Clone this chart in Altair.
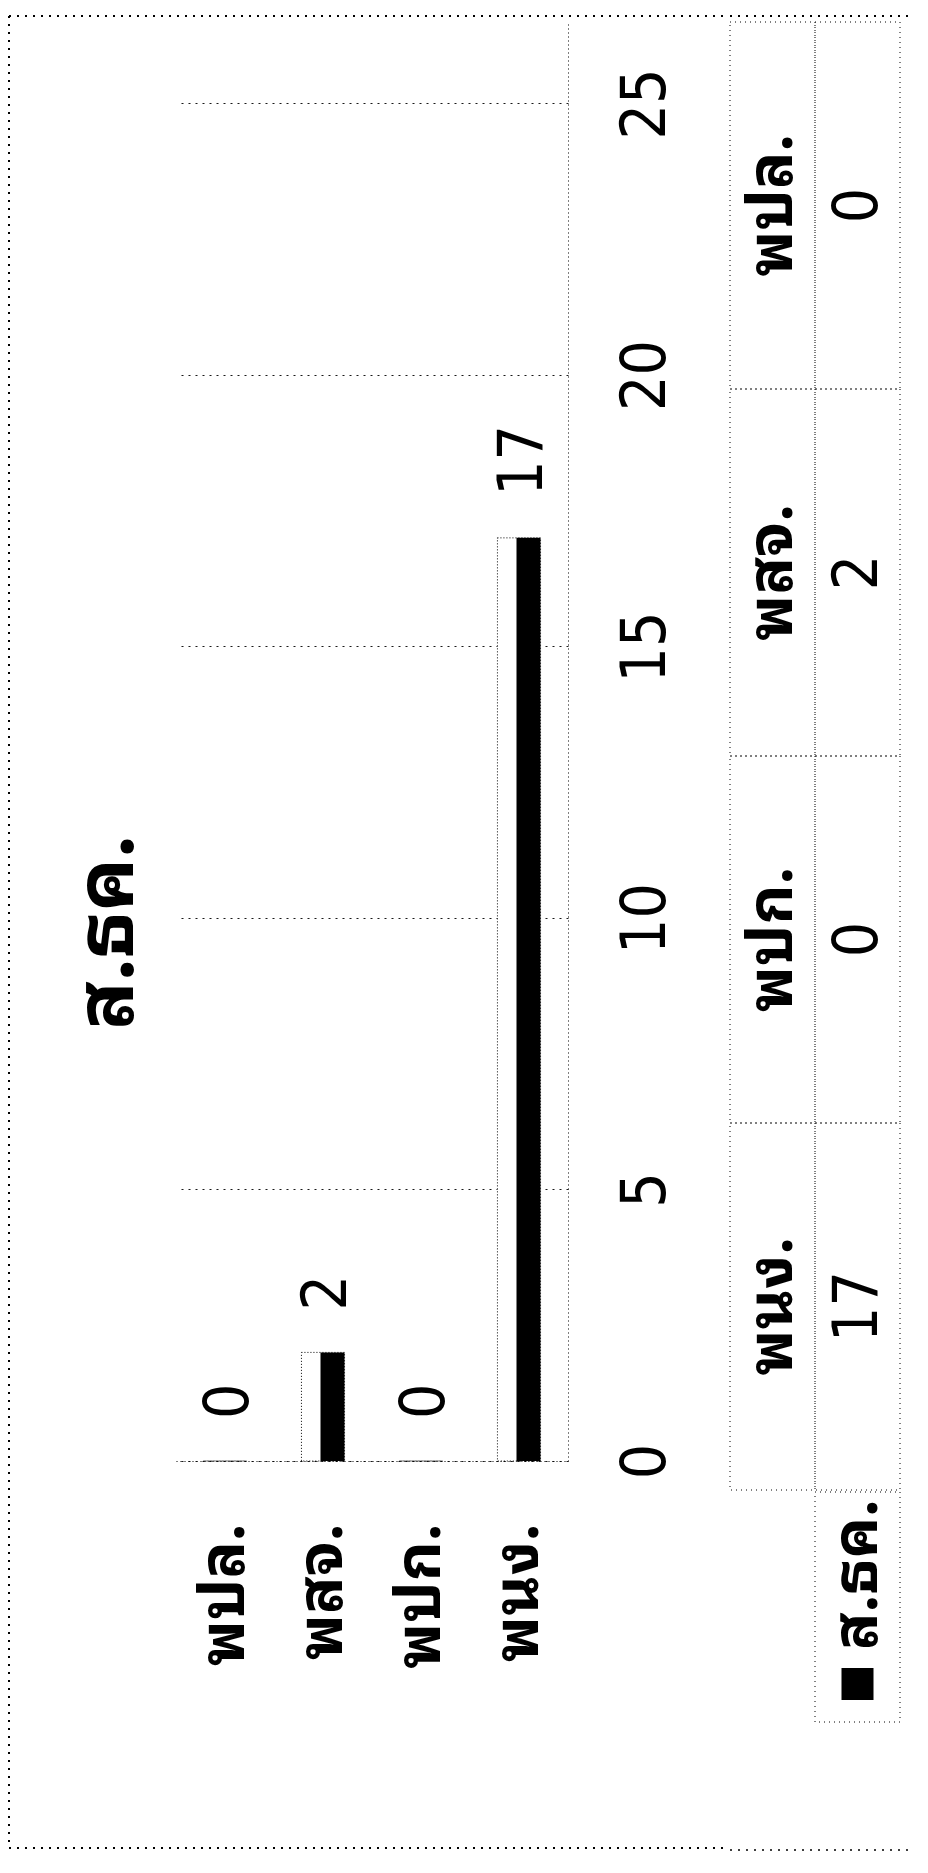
import altair as alt
import pandas as pd

# ---- data ----
categories = ["พปล.", "พสจ.", "พปก.", "พนง."]   # order as drawn (left to right / top to bottom)
values = [0, 2, 0, 17]
series_name = "ส.ธค."
tick_values = [0, 5, 10, 15, 20, 25]
value_max = 26.5

THAI = "Noto Sans Thai Looped, Noto Sans Thai, Noto Sans Thai UI, Loma, Garuda, Tlwg Typo, DejaVu Sans, sans-serif"
DIGIT = "DejaVu Sans Condensed, Liberation Sans Narrow, Arial Narrow, Liberation Sans, sans-serif"

df = pd.DataFrame({"cat": categories, "val": values})

x_bar = alt.X(
    "cat:N", sort=categories,
    scale=alt.Scale(paddingInner=0.56, paddingOuter=0.28),
    axis=alt.Axis(title=None, labelAngle=270, labelAlign="right", labelBaseline="middle",
                  labelPadding=62, labelFont=THAI, labelFontSize=62, labelFontWeight="bold",
                  labelColor="black", ticks=False, tickSize=0, domain=True, domainColor="black",
                  domainDash=[1, 3], labelLimit=0, grid=False),
)
y_bar = alt.Y(
    "val:Q",
    scale=alt.Scale(domain=[0, value_max], nice=False, zero=True),
    axis=alt.Axis(title=None, orient="right", values=tick_values, labelAngle=270,
                  labelAlign="center", labelBaseline="top", labelPadding=47,
                  labelFont=DIGIT, labelFontSize=62, labelColor="black",
                  ticks=False, tickSize=0, domain=True, domainColor="black", domainDash=[1, 3],
                  grid=True, gridColor="black", gridDash=[2, 5], gridWidth=1, gridOpacity=0.9),
)

base = alt.Chart(df)
bar_outline = base.mark_bar(fill="white", stroke="black", strokeWidth=1,
                            strokeDash=[1, 2]).encode(x=x_bar, y=y_bar)
bar_core = base.mark_bar(color="black", width=24, xOffset=9.5).encode(
    x=alt.X("cat:N", sort=categories), y=alt.Y("val:Q"))
bar_labels = base.mark_text(angle=270, align="left", baseline="middle", dx=42, dy=4,
                            font=DIGIT, fontSize=62, color="black").encode(
    x=alt.X("cat:N", sort=categories), y=alt.Y("val:Q"), text="val:Q")

# dotted outer frame of the chart area (decoration, left part)
frame_style = dict(color="black", strokeDash=[2, 6], strokeWidth=1.5)
frame_top = base.mark_rule(**frame_style).encode(
    x=alt.value(-167), x2=alt.value(552), y=alt.value(-6))
frame_bottom = base.mark_rule(**frame_style).encode(
    x=alt.value(-167), x2=alt.value(552), y=alt.value(1826))
frame_left = base.mark_rule(**frame_style).encode(
    x=alt.value(-167), y=alt.value(-6), y2=alt.value(1826))

bar_chart = alt.layer(frame_top, frame_bottom, frame_left,
                      bar_outline, bar_core, bar_labels).properties(
    width=392, height=1439,
    title=alt.TitleParams(series_name, orient="left", anchor="middle", frame="group",
                          font=THAI, fontSize=80, fontWeight="bold", color="black",
                          offset=-142, dx=-191),
)

# ---- data table ----
tdf = pd.DataFrame({"cat": categories, "val": [str(v) for v in values]})
tx = alt.X("row:N", scale=alt.Scale(domain=["h", "v"], paddingInner=0, paddingOuter=0), axis=None)
ty = alt.Y("cat:N", sort=categories, scale=alt.Scale(paddingInner=0, paddingOuter=0), axis=None)

tbase = alt.Chart(tdf)
cells_h = tbase.transform_calculate(row="'h'").mark_rect(
    fill="white", fillOpacity=0, stroke="black", strokeWidth=1, strokeDash=[1, 4]).encode(x=tx, y=ty)
cells_v = tbase.transform_calculate(row="'v'").mark_rect(
    fill="white", fillOpacity=0, stroke="black", strokeWidth=1, strokeDash=[1, 4]).encode(x=tx, y=ty)
head = tbase.transform_calculate(row="'h'").mark_text(
    angle=270, align="center", baseline="middle", font=THAI, fontSize=62,
    fontWeight="bold", color="black").encode(x=tx, y=ty, text="cat:N")
vals = tbase.transform_calculate(row="'v'").mark_text(
    angle=270, align="center", baseline="middle", font=DIGIT, fontSize=62,
    color="black").encode(x=tx, y=ty, text="val:N")
t_frame_top = tbase.mark_rule(**frame_style).encode(
    x=alt.value(0), x2=alt.value(184), y=alt.value(-6))

table = alt.layer(t_frame_top, cells_h, cells_v, head, vals).properties(width=170, height=1468)

ldf = pd.DataFrame({"row": ["v"], "name": [series_name]})
lbase = alt.Chart(ldf)
lcell = lbase.mark_rect(fill="white", fillOpacity=0, stroke="black", strokeWidth=1,
                        strokeDash=[1, 4]).encode(x=tx)
lkey = lbase.mark_square(size=1024, color="black", filled=True, opacity=1, yOffset=77).encode(x=tx)
ltext = lbase.mark_text(angle=270, align="left", baseline="middle", dx=34, yOffset=77,
                        font=THAI, fontSize=62, fontWeight="bold", color="black").encode(
    x=tx, text="name:N")
l_frame_bottom = lbase.mark_rule(**frame_style).encode(
    x=alt.value(0), x2=alt.value(184), y=alt.value(358))
legend_cell = alt.layer(lcell, lkey, ltext, l_frame_bottom).properties(width=170, height=230)

table_block = alt.vconcat(table, legend_cell, spacing=0)

chart = alt.hconcat(bar_chart, table_block, spacing=0).properties(
    padding={"left": 0, "top": 7, "right": 0, "bottom": 5},
    background="white",
).configure_view(stroke=None)

chart.save("out.html", embed_options={"renderer": "svg", "actions": False})
